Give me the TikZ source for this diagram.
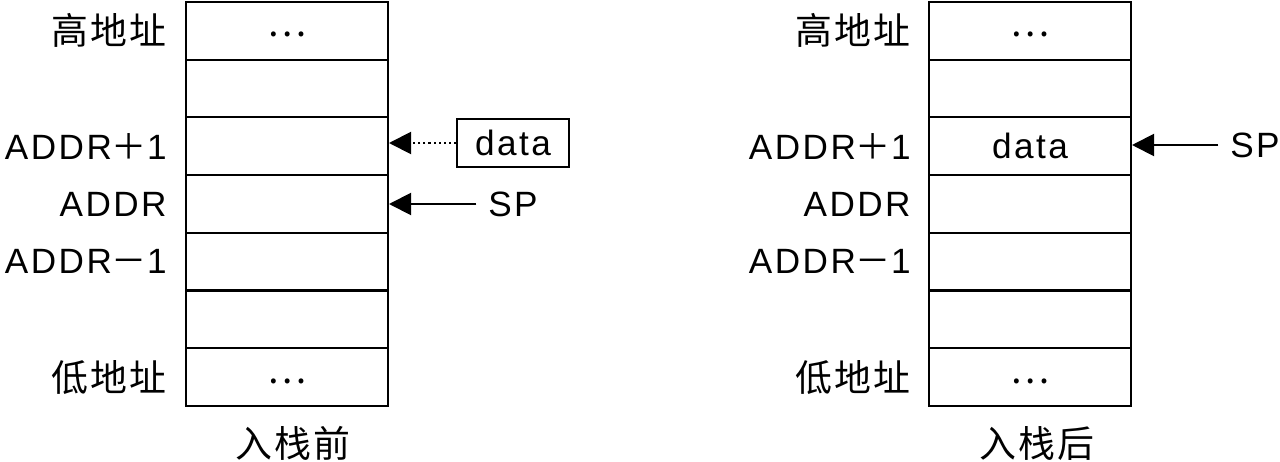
\documentclass[tikz,border=0pt]{standalone}
\usepackage{fontspec}
\setmainfont{Liberation Sans}[LetterSpace=7]
\newfontfamily\cjk{Noto Sans CJK SC}[LetterSpace=6]
\usetikzlibrary{positioning,arrows.meta}

\begin{document}
\begin{tikzpicture}[
	cell/.style={draw, line width=1.15pt, minimum width=4.04cm, minimum height=1.154cm, inner sep=0pt},
	lbl/.style={inner sep=0pt, font=\fontsize{20}{22}\selectfont},
	zh/.style={inner sep=0pt, font=\cjk\fontsize{21}{23}\selectfont},
	ptr/.style={line width=1.15pt, -{Triangle[length=0.44cm,width=0.44cm]}},
	spnode/.style={lbl, inner xsep=0.23cm}]
			\useasboundingbox (0,0) rectangle (25.6,-9.24);
			% stacks
			\foreach \i in {1,...,7}{
				\node[cell] (l\i) at (5.74,{-0.617-1.154*(\i-1)}) {};
				\node[cell] (r\i) at (20.6,{-0.617-1.154*(\i-1)}) {};
			}
			
			% left: before push
			\node[zh, left=0.36cm of l1] {高地址};
			\node[lbl, left=0.36cm of l3] {ADDR{\cjk ＋}1};
			\node[lbl, left=0.36cm of l4] {ADDR};
			\node[lbl, left=0.36cm of l5] {ADDR{\cjk －}1};
			\node[zh, left=0.36cm of l7] {低地址};
			\node[zh, yshift=-0.08cm] at (l1) {…};
			\node[zh, yshift=-0.08cm] at (l7) {…};
			\node[draw, line width=1.15pt, minimum width=2.24cm, minimum height=0.96cm, inner sep=0pt, font=\fontsize{20}{22}\selectfont] (data) at (10.26,-2.86) {data};
			\draw[ptr, dash pattern=on 1.2pt off 1.7pt] (data.west) -- (data.west -| l3.east);
			\node[spnode] (spl) at (10.26,-4.08) {SP};
			\draw[ptr] (spl) -- (spl -| l4.east);
			\node[zh] at (5.86,-8.87) {入栈前};
			
			% right: after push
			\node[zh, left=0.34cm of r1] {高地址};
			\node[lbl, left=0.34cm of r3] {ADDR{\cjk ＋}1};
			\node[lbl, left=0.34cm of r4] {ADDR};
			\node[lbl, left=0.34cm of r5] {ADDR{\cjk －}1};
			\node[zh, left=0.34cm of r7] {低地址};
			\node[zh, yshift=-0.08cm] at (r1) {…};
			\node[lbl] at (r3) {data};
			\node[zh, yshift=-0.08cm] at (r7) {…};
			\node[spnode] (spr) at (25.1,-2.9) {SP};
			\draw[ptr] (spr) -- (spr -| r3.east);
			\node[zh] at (20.74,-8.87) {入栈后};
\end{tikzpicture}
\end{document}
